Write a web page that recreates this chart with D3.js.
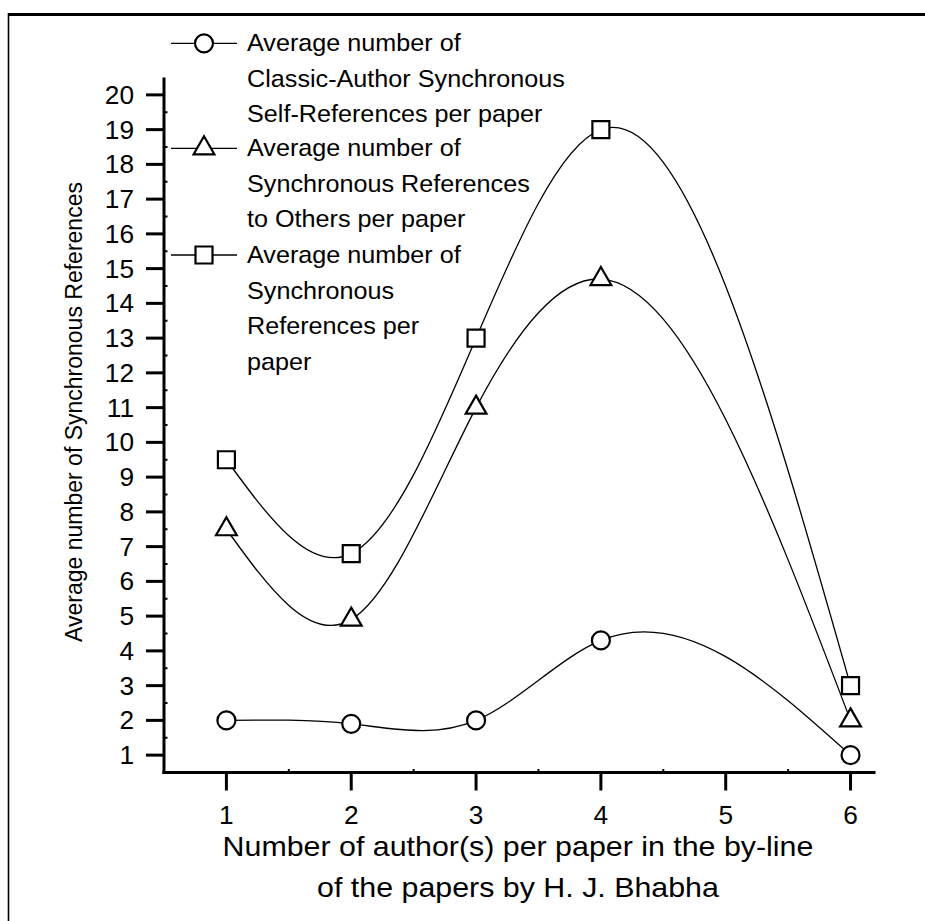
<!DOCTYPE html>
<html>
<head>
<meta charset="utf-8">
<script src="https://cdn.jsdelivr.net/npm/d3@7"></script>
<style>
  html, body { margin: 0; padding: 0; background: #fff; }
  svg { display: block; }
  text { font-family: "Liberation Sans", Arial, sans-serif; fill: #000; }
</style>
</head>
<body>
<svg id="chart" width="925" height="921"></svg>
<script>
// ---------------- data ----------------
const authorCounts = [1, 2, 3, 4, 6];
const selfRefs   = [2.0, 1.9, 2.0, 4.3, 1.0];
const otherRefs  = [7.5, 4.9, 11.0, 14.7, 2.0];
const totalRefs  = [9.5, 6.8, 13.0, 19.0, 3.0];
const xTickValues = [1, 2, 3, 4, 5, 6];
const yTickValues = d3.range(1, 21);
const legendLabels = [
  ["Average number of", "Classic-Author Synchronous", "Self-References per paper"],
  ["Average number of", "Synchronous References", "to Others per paper"],
  ["Average number of", "Synchronous", "References per", "paper"]
];
const xTitleLines = ["Number of author(s) per paper in the by-line", "of the papers by H. J. Bhabha"];
const yTitle = "Average number of Synchronous References";

// ---------------- layout ----------------
const W = 925, H = 921;
const SX = 1.05; // horizontal text stretch of the original picture
const svg = d3.select("#chart");
svg.append("rect").attr("width", W).attr("height", H).attr("fill", "#fff");

// outer frame (top and left edges visible)
svg.append("line").attr("x1", 8).attr("x2", W).attr("y1", 14.5).attr("y2", 14.5)
  .attr("stroke", "#000").attr("stroke-width", 3);
svg.append("line").attr("x1", 8.5).attr("x2", 8.5).attr("y1", 13).attr("y2", H)
  .attr("stroke", "#000").attr("stroke-width", 1.6);

const x = d3.scaleLinear().domain([0.5, 6.2]).range([164, 875.5]);
const y = d3.scaleLinear().domain([0.5, 20.5]).range([772.5, 77.5]);

// natural cubic spline y(x) as a d3 curve
function splineCurve(context) {
  let xs = [], ys = [];
  return {
    areaStart() {}, areaEnd() {},
    lineStart() { xs = []; ys = []; },
    point(px, py) { xs.push(+px); ys.push(+py); },
    lineEnd() {
      const n = xs.length;
      if (n === 0) return;
      context.moveTo(xs[0], ys[0]);
      if (n === 1) return;
      const h = [], M = new Array(n).fill(0);
      for (let i = 0; i < n - 1; i++) h.push(xs[i + 1] - xs[i]);
      if (n > 2) {
        const a = [], b = [], c = [], d = [];
        for (let i = 1; i < n - 1; i++) {
          a.push(h[i - 1]); b.push(2 * (h[i - 1] + h[i])); c.push(h[i]);
          d.push(6 * ((ys[i + 1] - ys[i]) / h[i] - (ys[i] - ys[i - 1]) / h[i - 1]));
        }
        const m = b.length;
        for (let i = 1; i < m; i++) {
          const w = a[i] / b[i - 1];
          b[i] -= w * c[i - 1]; d[i] -= w * d[i - 1];
        }
        const sol = new Array(m);
        sol[m - 1] = d[m - 1] / b[m - 1];
        for (let i = m - 2; i >= 0; i--) sol[i] = (d[i] - c[i] * sol[i + 1]) / b[i];
        for (let i = 0; i < m; i++) M[i + 1] = sol[i];
      }
      for (let i = 0; i < n - 1; i++) {
        const hi = h[i], s = (ys[i + 1] - ys[i]) / hi;
        const d0 = s - hi * (2 * M[i] + M[i + 1]) / 6;
        const d1 = s + hi * (M[i] + 2 * M[i + 1]) / 6;
        context.bezierCurveTo(xs[i] + hi / 3, ys[i] + d0 * hi / 3,
                              xs[i + 1] - hi / 3, ys[i + 1] - d1 * hi / 3,
                              xs[i + 1], ys[i + 1]);
      }
    }
  };
}

const series = [
  { values: selfRefs, symbol: d3.symbolCircle, size: Math.PI * 81 },
  { values: otherRefs, symbol: d3.symbolTriangle, size: 187 },
  { values: totalRefs, symbol: d3.symbolSquare, size: 289 }
];

const line = d3.line().x(d => x(d[0])).y(d => y(d[1])).curve(splineCurve);

const plot = svg.append("g");
series.forEach(s => {
  const pts = authorCounts.map((c, i) => [c, s.values[i]]);
  plot.append("path").attr("d", line(pts)).attr("fill", "none")
    .attr("stroke", "#000").attr("stroke-width", 1.3);
});
series.forEach(s => {
  const pts = authorCounts.map((c, i) => [c, s.values[i]]);
  plot.selectAll(null).data(pts).enter().append("path")
    .attr("d", d3.symbol().type(s.symbol).size(s.size))
    .attr("transform", d => `translate(${x(d[0])},${y(d[1])})`)
    .attr("fill", "#fff").attr("stroke", "#000").attr("stroke-width", 2.2);
});

// ---------------- axes ----------------
const yAxis = svg.append("g");
yAxis.append("line").attr("x1", x(0.5)).attr("x2", x(0.5))
  .attr("y1", y(20.5)).attr("y2", y(0.5) + 1.5)
  .attr("stroke", "#000").attr("stroke-width", 3);
yAxis.selectAll(".maj").data(yTickValues).enter().append("line")
  .attr("x1", x(0.5) - 18).attr("x2", x(0.5))
  .attr("y1", d => y(d)).attr("y2", d => y(d))
  .attr("stroke", "#000").attr("stroke-width", 3);
yAxis.selectAll(".min").data(yTickValues.map(v => v + 0.5).filter(v => v < 20.5)).enter().append("line")
  .attr("x1", x(0.5)).attr("x2", x(0.5) + 3.5)
  .attr("y1", d => y(d)).attr("y2", d => y(d))
  .attr("stroke", "#000").attr("stroke-width", 2);
yAxis.selectAll("text").data(yTickValues).enter().append("text")
  .attr("transform", d => `translate(${x(0.5) - 30},${y(d)}) scale(${SX},1)`)
  .attr("dy", "0.36em").attr("text-anchor", "end")
  .style("font-size", "25px").text(d => d);

const xAxis = svg.append("g");
xAxis.append("line").attr("x1", x(0.5) - 1.5).attr("x2", x(6.2))
  .attr("y1", y(0.5)).attr("y2", y(0.5))
  .attr("stroke", "#000").attr("stroke-width", 3);
xAxis.selectAll(".maj").data(xTickValues).enter().append("line")
  .attr("x1", d => x(d)).attr("x2", d => x(d))
  .attr("y1", y(0.5)).attr("y2", y(0.5) + 18)
  .attr("stroke", "#000").attr("stroke-width", 3);
xAxis.selectAll(".min").data(xTickValues.map(v => v + 0.5).filter(v => v < 6.2)).enter().append("line")
  .attr("x1", d => x(d)).attr("x2", d => x(d))
  .attr("y1", y(0.5)).attr("y2", y(0.5) - 3.5)
  .attr("stroke", "#000").attr("stroke-width", 2);
xAxis.selectAll("text").data(xTickValues).enter().append("text")
  .attr("transform", d => `translate(${x(d)},823.5) scale(${SX},1)`)
  .attr("text-anchor", "middle")
  .style("font-size", "25px").text(d => d);

// axis titles
svg.selectAll(".xt").data(xTitleLines).enter().append("text")
  .attr("transform", (d, i) => `translate(518,${856 + i * 41}) scale(1.085,1)`)
  .attr("text-anchor", "middle").style("font-size", "28px").text(d => d);

svg.append("text")
  .attr("transform", "translate(82,412) rotate(-90)")
  .attr("text-anchor", "middle").style("font-size", "23px").text(yTitle);

// ---------------- legend ----------------
const legend = svg.append("g");
const rowTop = [43.3, 148.3, 255];
const lineGap = 35.5;
series.forEach((s, k) => {
  const cy = rowTop[k];
  legend.append("line").attr("x1", 171).attr("x2", 237).attr("y1", cy).attr("y2", cy)
    .attr("stroke", "#000").attr("stroke-width", 1.3);
  legend.append("path").attr("d", d3.symbol().type(s.symbol).size(s.size))
    .attr("transform", `translate(204,${cy})`)
    .attr("fill", "#fff").attr("stroke", "#000").attr("stroke-width", 2.2);
  legendLabels[k].forEach((t, j) => {
    legend.append("text")
      .attr("transform", `translate(247,${cy + 8 + j * lineGap}) scale(${SX},1)`)
      .style("font-size", "24px").text(t);
  });
});
</script>
</body>
</html>
